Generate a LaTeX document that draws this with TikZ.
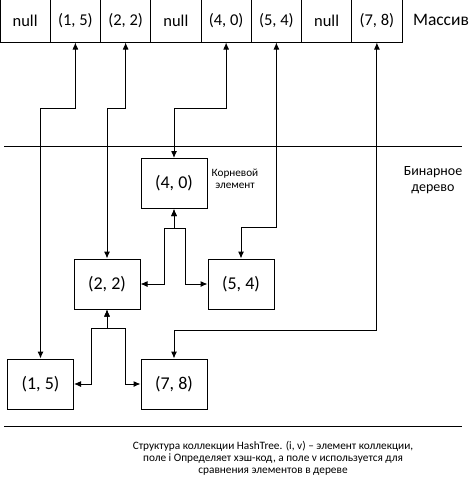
\documentclass[tikz,border=0pt]{standalone}
\usepackage{fontspec}
\setmainfont{Carlito}
\usetikzlibrary{positioning,calc,arrows.meta}

\begin{document}
\begin{tikzpicture}[x=1pt, y=-1pt, node distance=0pt,
        cell/.style={rectangle, draw, line width=1pt, outer sep=0pt, inner sep=0pt,
          minimum width=50.25pt, minimum height=44pt, font=\fontsize{16.5}{18}\selectfont},
        elem/.style={rectangle, draw, line width=1pt, inner sep=0pt,
          minimum width=66pt, minimum height=50pt, font=\fontsize{18}{20}\selectfont},
        link/.style={draw, line width=1pt, {Latex[length=7pt,width=6pt]}-{Latex[length=7pt,width=6pt]}},
        rule/.style={draw, line width=1pt}]
        \useasboundingbox (0,0) rectangle (474,479);

        % array
        \node [cell] (c1) at (25.125,20.5) {null};
        \node [cell, right=of c1] (c2) {(1, 5)};
        \node [cell, right=of c2] (c3) {(2, 2)};
        \node [cell, right=of c3] (c4) {null};
        \node [cell, right=of c4] (c5) {(4, 0)};
        \node [cell, right=of c5] (c6) {(5, 4)};
        \node [cell, right=of c6] (c7) {null};
        \node [cell, right=of c7] (c8) {(7, 8)};
        \node [font=\fontsize{17.5}{20}\selectfont] (arr) at (441,20) {Массив};

        \path [rule] (4,146) -- (462,146);
        \path [rule] (4,426) -- (462,426);

        % tree
        \node [elem] (b40) at (174,183.5) {(4, 0)};
        \node [elem] (b22) at (107,284) {(2, 2)};
        \node [elem] (b54) at (241,284) {(5, 4)};
        \node [elem] (b15) at (40.5,384) {(1, 5)};
        \node [elem] (b78) at (174,384) {(7, 8)};

        \node [font=\fontsize{11.2}{12.5}\selectfont, align=center] (root) at (235,179) {Корневой\\элемент};
        \node [font=\fontsize{14}{16}\selectfont, align=center] (tree) at (433,180) {Бинарное\\дерево};
        \node [font=\fontsize{11.3}{11.8}\selectfont, align=center] (cap) at (273,458)
          {Структура коллекции HashTree. (i, v) – элемент коллекции,\\
           поле i Определяет хэш-код, а поле v используется для\\
           сравнения элементов в дереве};

        % array -> tree
        \path [link] (c2.south) -- (c2.south |- 0,108) -| (b15.north);
        \path [link] (c3.south) -- (c3.south |- 0,108) -| (b22.north);
        \path [link] (c5.south) -- (c5.south |- 0,108) -| (b40.north);
        \path [link] (c6.south) -- (c6.south |- 0,227) -| (b54.north);
        \path [link] (c8.south) -- (c8.south |- 0,330) -| (b78.north);

        % children
        \path [link] (b40.south) -- (174,228) -| (164,228) |- (b22.east);
        \path [link] (b40.south) -- (174,228) -| (185,228) |- (b54.west);
        \path [link] (b22.south) -- (107,328) -| (91,328) |- (b15.east);
        \path [link] (b22.south) -- (107,328) -| (125,328) |- (b78.west);
\end{tikzpicture}
\end{document}
